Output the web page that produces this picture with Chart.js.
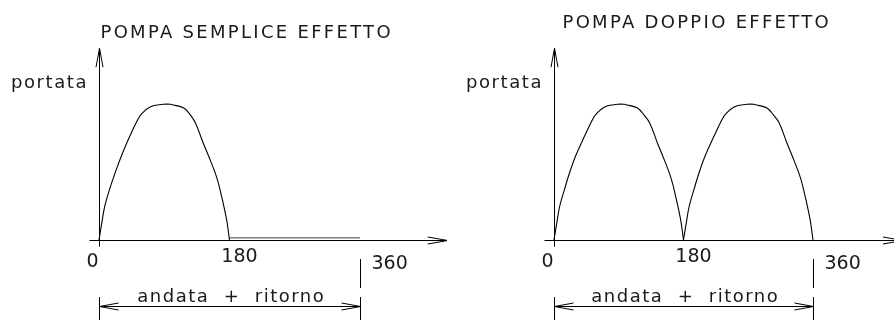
<!DOCTYPE html>
<html>
<head>
<meta charset="utf-8">
<script src="https://cdn.jsdelivr.net/npm/chart.js@4.4.1/dist/chart.umd.min.js"></script>
<style>
  html, body { margin: 0; padding: 0; background: #fff; }
  #wrap { position: relative; width: 894px; height: 320px; overflow: hidden; }
  canvas { position: absolute; top: 0; }
</style>
</head>
<body>
<div id="wrap">
  <canvas id="chartSingle" width="447" height="320" style="left:0"></canvas>
  <canvas id="chartDouble" width="447" height="320" style="left:447px"></canvas>
</div>
<script>
// angolo di manovella (gradi) e portata (% del massimo)
const singleAngles = [0, 4, 8, 15, 22, 31, 43, 52, 59, 71, 83, 94, 105, 117, 126, 133, 144, 154, 163, 170, 176, 180];
const singleFlow   = [0, 13, 25, 38, 49, 62, 77, 87, 93, 98, 99.5, 100, 99, 97, 92, 86, 71, 58, 45, 30, 15, 0];

// semplice effetto: nel ritorno la portata resta nulla
const idleAngles = [180, 360];
const idleFlow   = [1.6, 1.6];

// doppio effetto: mandata sia in andata che in ritorno
const forwardAngles = [0, 4, 8, 15, 22, 31, 43, 52, 59, 71, 83, 93, 104, 116, 125, 133, 144, 154, 163, 170, 176, 180];
const forwardFlow   = [0, 13, 25, 38, 50, 63, 77, 87, 93, 98, 99.5, 100, 99, 97, 92, 86, 71, 58, 45, 30, 15, 0];
const returnAngles  = [180, 184, 188, 195, 202, 211, 223, 232, 239, 251, 263, 273, 284, 296, 305, 313, 324, 334, 343, 350, 356, 360];
const returnFlow    = [0, 13, 25, 38, 50, 63, 77, 87, 93, 98, 99.5, 100, 99, 97, 92, 86, 71, 58, 45, 30, 15, 0];

const tickValues = [0, 180, 360];
const tickLabels = ['0', '180', '360'];

const TEXT_FONT = '18px "DejaVu Sans"';
const NUM_FONT = '19px "DejaVu Sans"';

function toPoints(xs, ys) {
    return xs.map((x, i) => ({ x: x, y: ys[i] }));
}

// freccia aperta (stile quotatura CAD), punta in (x, y)
function openArrow(ctx, x, y, dx, dy, len, half) {
    ctx.beginPath();
    ctx.moveTo(x - dx * len - dy * half, y - dy * len + dx * half);
    ctx.lineTo(x, y);
    ctx.lineTo(x - dx * len + dy * half, y - dy * len - dx * half);
    ctx.stroke();
}

function spacedText(ctx, text, x, y, align, spacing) {
    ctx.letterSpacing = spacing + 'px';
    let w = ctx.measureText(text).width - spacing;
    let sx = x;
    if (align === 'center') sx = x - w / 2;
    if (align === 'right') sx = x - w;
    ctx.textAlign = 'left';
    ctx.fillText(text, sx, y);
    ctx.letterSpacing = '0px';
}

const schemaPlugin = {
    id: 'schema',
    afterDatasetsDraw(chart, args, opts) {
        const ctx = chart.ctx;
        const xs = chart.scales.x;
        const ys = chart.scales.y;
        const px = v => Math.round(xs.getPixelForValue(v)) + 0.5;
        const x0 = px(0);
        const x180 = px(180);
        const x360 = px(360);
        const y0 = Math.round(ys.getPixelForValue(0)) + 0.5;

        ctx.save();
        ctx.strokeStyle = '#000';
        ctx.lineWidth = 1;

        // asse delle ordinate (portata)
        const yTop = ys.getPixelForValue(opts.yAxisTo);
        ctx.beginPath();
        ctx.moveTo(x0, y0 + 6);
        ctx.lineTo(x0, yTop);
        ctx.stroke();
        openArrow(ctx, x0, yTop, 0, -1, 19, 3.5);

        // asse delle ascisse (angolo)
        const xEnd = xs.getPixelForValue(opts.xAxisTo);
        ctx.beginPath();
        ctx.moveTo(px(opts.xAxisFrom), y0);
        ctx.lineTo(xEnd, y0);
        ctx.stroke();
        openArrow(ctx, xEnd, y0, 1, 0, 20, 3.5);

        // quota "andata + ritorno"
        ctx.beginPath();
        ctx.moveTo(x360, 259); ctx.lineTo(x360, 288);
        ctx.moveTo(x0, 297); ctx.lineTo(x0, 320);
        ctx.moveTo(x360, 297); ctx.lineTo(x360, 320);
        ctx.moveTo(x0, 306.5); ctx.lineTo(x360, 306.5);
        ctx.stroke();
        openArrow(ctx, x0, 306.5, -1, 0, 19, 3.5);
        openArrow(ctx, x360, 306.5, 1, 0, 19, 3.5);

        // testi
        ctx.fillStyle = '#1a1a1a';
        ctx.textBaseline = 'alphabetic';
        ctx.font = TEXT_FONT;
        spacedText(ctx, opts.title, x0 + opts.titleOffset, opts.titleY, 'left', 2.3);
        spacedText(ctx, 'portata', x0 - 13, 88, 'right', 1.6);
        spacedText(ctx, 'andata  +  ritorno', x180, 302, 'center', 1.5);

        ctx.font = NUM_FONT;
        tickValues.forEach((v, i) => {
            const x = px(v);
            if (v === 0) spacedText(ctx, tickLabels[i], x - 1, 267, 'right', 0);
            else if (v === 180) spacedText(ctx, tickLabels[i], x + 9, 262, 'center', 0);
            else spacedText(ctx, tickLabels[i], x + 11, 269, 'left', 0);
        });
        ctx.restore();
    }
};

function baseOptions(padding, schema) {
    return {
        responsive: false,
        animation: false,
        layout: { padding: padding },
        scales: {
            x: { type: 'linear', min: 0, max: 360, display: false },
            y: { type: 'linear', min: 0, max: 100, display: false }
        },
        elements: { point: { radius: 0 } },
        plugins: {
            legend: { display: false },
            tooltip: { enabled: false },
            schema: schema
        }
    };
}

function curve(points, color, width) {
    return {
        data: points,
        borderColor: color,
        borderWidth: width,
        fill: false,
        tension: 0.4,
        clip: false
    };
}

new Chart(document.getElementById('chartSingle'), {
    type: 'line',
    data: {
        datasets: [
            curve(toPoints(singleAngles, singleFlow), '#000', 1.1),
            curve(toPoints(idleAngles, idleFlow), '#808080', 1.5)
        ]
    },
    options: baseOptions(
        { left: 99, right: 87, top: 104, bottom: 80 },
        { title: 'POMPA SEMPLICE EFFETTO', titleOffset: 1, titleY: 38, yAxisTo: 141, xAxisFrom: -14, xAxisTo: 481 }
    ),
    plugins: [schemaPlugin]
});

new Chart(document.getElementById('chartDouble'), {
    type: 'line',
    data: {
        datasets: [
            curve(toPoints(forwardAngles, forwardFlow), '#000', 1.1),
            curve(toPoints(returnAngles, returnFlow), '#000', 1.1)
        ]
    },
    options: baseOptions(
        { left: 107, right: 81, top: 104, bottom: 80 },
        { title: 'POMPA DOPPIO EFFETTO', titleOffset: 8, titleY: 28, yAxisTo: 141, xAxisFrom: -14, xAxisTo: 485 }
    ),
    plugins: [schemaPlugin]
});
</script>
</body>
</html>
